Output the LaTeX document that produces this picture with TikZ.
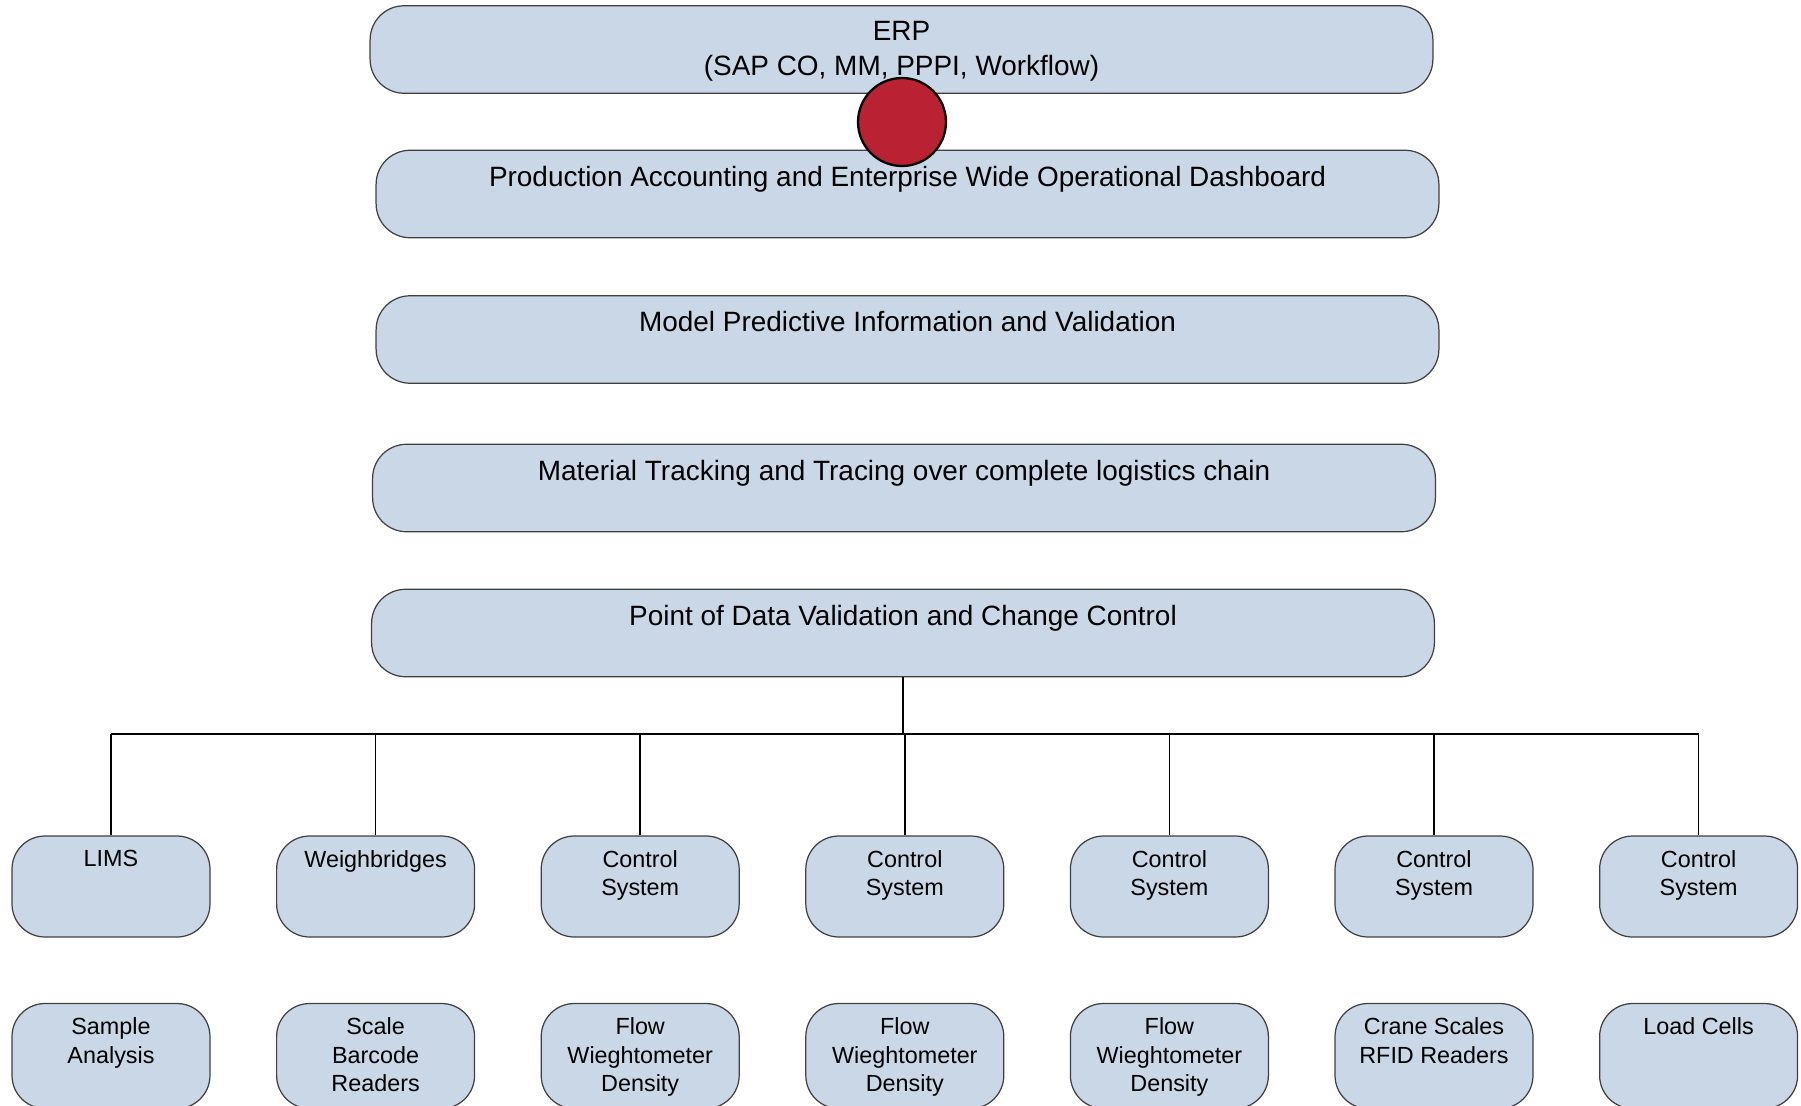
\documentclass[tikz,border=0pt]{standalone}
\usepackage{fontspec}
\setmainfont{Liberation Sans}
\usetikzlibrary{positioning}

\definecolor{boxfill}{RGB}{201,215,230}
\definecolor{boxline}{RGB}{64,64,64}
\definecolor{dotred}{RGB}{186,33,50}

\begin{document}
\begin{tikzpicture}[x=0.02cm, y=-0.02cm,
  layer/.style = {draw=boxline, fill=boxfill, line width=0.7pt, rounded corners=0.68cm,
                  minimum width=21.26cm, minimum height=1.75cm, inner sep=0pt},
  unit/.style = {draw=boxline, fill=boxfill, line width=0.7pt, rounded corners=0.66cm,
                 minimum width=3.96cm, minimum height=2.02cm, inner sep=0pt},
  bigtext/.style = {inner sep=0pt, align=center, font=\fontsize{15.9}{19.6}\selectfont},
  smalltext/.style = {inner sep=0pt, align=center, font=\fontsize{13.3}{16.3}\selectfont},
  wire/.style = {line width=0.95pt}]

\useasboundingbox (0,0) rectangle (1801,1105);

% the five layers
\node[layer] (erp) at (901.5,49.5) {};
\node[layer] (pa) at (907.5,194) {};
\node[layer] (mp) at (907.5,339.5) {};
\node[layer] (mt) at (904,488) {};
\node[layer] (pd) at (903,633) {};

% systems and devices, one column each
\foreach \i/\upper/\lower in {0/LIMS/{Sample\\Analysis},
    1/Weighbridges/{Scale\\Barcode\\Readers},
    2/{Control\\System}/{Flow\\Wieghtometer\\Density},
    3/{Control\\System}/{Flow\\Wieghtometer\\Density},
    4/{Control\\System}/{Flow\\Wieghtometer\\Density},
    5/{Control\\System}/{Crane Scales\\RFID Readers},
    6/{Control\\System}/{Load Cells}} {
  \node[unit] (sys\i) at (111+264.6*\i,886.5) {};
  \node[unit, minimum height=2.1cm] (dev\i) at (111+264.6*\i,1056) {};
  \node[smalltext, below=0.29cm of sys\i.north] (syslabel\i) {\upper};
  \node[smalltext, below=0.29cm of dev\i.north] (devlabel\i) {\lower};
}

% tree from the validation layer
\coordinate (busl) at (111,734);
\coordinate (busr) at (1698.6,734);
\draw[wire] (busl) -- (busr);
\draw[wire] (pd.south) -- (pd.south |- busl);
\foreach \i in {0,...,6} {\draw[wire] (sys\i.north) -- (sys\i.north |- busl);}

% red marker between the two top layers
\node[circle, draw=black, fill=dotred, line width=1.3pt, minimum size=1.76cm] (dot) at (902,122) {};

\node[bigtext, below=0.32cm of erp.north] (erplabel) {ERP\\(SAP CO, MM, PPPI, Workflow)};
\node[bigtext, below=0.32cm of pa.north] (palabel) {Production Accounting and Enterprise Wide Operational Dashboard};
\node[bigtext, below=0.32cm of mp.north] (mplabel) {Model Predictive Information and Validation};
\node[bigtext, below=0.32cm of mt.north] (mtlabel) {Material Tracking and Tracing over complete logistics chain};
\node[bigtext, below=0.32cm of pd.north] (pdlabel) {Point of Data Validation and Change Control};

\end{tikzpicture}
\end{document}
